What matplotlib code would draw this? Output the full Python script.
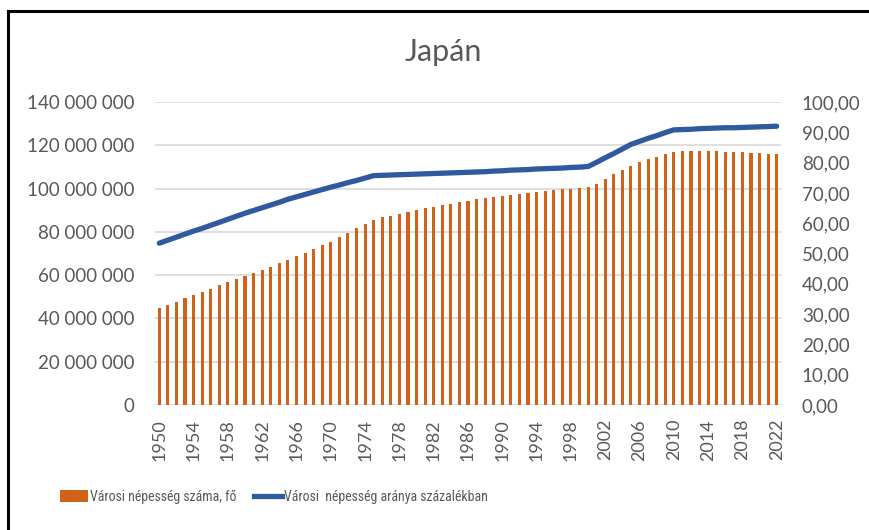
import matplotlib
matplotlib.use("Agg")
import matplotlib.pyplot as plt
from matplotlib.lines import Line2D
from matplotlib.patches import Patch
from matplotlib import font_manager

years = list(range(1950, 2023))

urban_pop_million = [
    44.7, 46.2, 47.7, 49.3, 50.8, 52.2, 53.7, 55.3, 56.7, 58.2,
    59.6, 61.0, 62.4, 63.9, 65.5, 67.0, 68.8, 70.4, 71.9, 73.8,
    75.5, 77.8, 79.6, 81.8, 83.6, 85.5, 86.7, 87.5, 88.4, 89.2,
    90.1, 90.9, 91.6, 92.4, 93.0, 93.6, 94.3, 95.0, 95.5, 96.0,
    96.6, 97.0, 97.5, 98.0, 98.4, 98.9, 99.2, 99.7, 99.9, 100.4,
    100.6, 102.3, 104.6, 106.7, 108.7, 110.4, 112.3, 113.5, 114.7, 115.8,
    116.9, 117.2, 117.2, 117.2, 117.2, 117.2, 117.0, 116.9, 116.7, 116.6,
    116.3, 116.1, 115.8,
]

urban_share_pct = [
    53.4, 54.4, 55.4, 56.4, 57.4, 58.3, 59.3, 60.3, 61.3, 62.3,
    63.3, 64.2, 65.1, 66.0, 66.9, 67.9, 68.7, 69.5, 70.3, 71.1,
    71.9, 72.6, 73.4, 74.1, 74.9, 75.7, 75.8, 75.9, 76.0, 76.1,
    76.2, 76.3, 76.4, 76.5, 76.6, 76.7, 76.8, 76.9, 77.0, 77.2,
    77.3, 77.5, 77.6, 77.7, 77.9, 78.0, 78.1, 78.2, 78.4, 78.5,
    78.7, 80.1, 81.6, 83.0, 84.5, 86.0, 87.0, 88.0, 88.9, 89.9,
    90.8, 90.9, 91.0, 91.2, 91.3, 91.4, 91.5, 91.5, 91.6, 91.7,
    91.8, 91.9, 92.0,
]

left_ticks = [0, 20e6, 40e6, 60e6, 80e6, 100e6, 120e6, 140e6]
left_labels = ["0", "20 000 000", "40 000 000", "60 000 000", "80 000 000",
               "100 000 000", "120 000 000", "140 000 000"]
right_ticks = [0, 10, 20, 30, 40, 50, 60, 70, 80, 90, 100]
right_labels = ["0,00", "10,00", "20,00", "30,00", "40,00", "50,00",
                "60,00", "70,00", "80,00", "90,00", "100,00"]

title = "Japán"
bar_label = "Városi népesség száma, fő"
line_label = "Városi  népesség aránya százalékban"

BAR_C = "#D2611A"
LINE_C = "#2F5A9F"
TXT_C = "#595959"
GRID_C = "#D9D9D9"
FONT = ["Lato", "DejaVu Sans"]

installed = {f.name for f in font_manager.fontManager.ttflist}
leg_family, leg_size = FONT, 9.5
for cand, sz in (("Roboto Condensed", 10), ("Liberation Sans Narrow", 10),
                 ("Open Sans Condensed", 10)):
    if cand in installed:
        leg_family, leg_size = [cand, "DejaVu Sans"], sz
        break

plt.rcParams["font.family"] = FONT

fig = plt.figure(figsize=(8.7, 5.3), dpi=100)
ax = fig.add_axes([155 / 870, 1 - 405 / 530, (781 - 155) / 870, (405 - 102) / 530])
ax2 = ax.twinx()

x = list(range(len(years)))
pop = [v * 1e6 for v in urban_pop_million]
ax.bar(x, pop, width=0.36, color=BAR_C, zorder=3)
ax.set_ylim(0, 140e6)
ax.set_xlim(-0.5, len(years) - 0.5)
ax.set_yticks(left_ticks)
ax.set_yticklabels(left_labels)
ax.grid(axis="y", color=GRID_C, linewidth=1.2, zorder=0)
ax.set_axisbelow(True)

ax2.plot(x, urban_share_pct, color=LINE_C, linewidth=3.8, solid_capstyle="round", zorder=4)
ax2.set_ylim(0, 100)
ax2.set_yticks(right_ticks)
ax2.set_yticklabels(right_labels)

xt = [i for i, y in enumerate(years) if (y - 1950) % 4 == 0]
ax.set_xticks(xt)
ax.set_xticklabels([str(years[i]) for i in xt], rotation=90)

for a in (ax, ax2):
    for s in a.spines.values():
        s.set_visible(False)
    a.tick_params(length=0, colors=TXT_C, labelsize=13.5)
ax.tick_params(axis="y", pad=15)
ax2.tick_params(axis="y", pad=15)
ax.tick_params(axis="x", pad=10, labelsize=13)

fig.text(443 / 870, 1 - 52 / 530, title, ha="center", va="center",
         fontsize=22, color=TXT_C)

handles = [Patch(facecolor=BAR_C, edgecolor="none"),
           Line2D([0], [0], color=LINE_C, linewidth=3.8)]
leg = fig.legend(handles, [bar_label, line_label], loc="center left",
                 bbox_to_anchor=(60 / 870, 1 - 497 / 530), ncol=2, frameon=False,
                 prop={"family": leg_family, "size": leg_size},
                 handlelength=2.0, handleheight=0.9, handletextpad=0.15,
                 columnspacing=1.3, borderpad=0.0, borderaxespad=0.0,
                 labelcolor=TXT_C)

# outer frame (clipped at right/bottom in the reference)
fig.add_artist(Line2D([8 / 870, 8 / 870], [0, 1 - 11 / 530], color="black",
                      linewidth=2.2, transform=fig.transFigure))
fig.add_artist(Line2D([8 / 870, 1], [1 - 11 / 530, 1 - 11 / 530], color="black",
                      linewidth=2.2, transform=fig.transFigure))

fig.savefig("out.png", dpi=100, facecolor="white")
